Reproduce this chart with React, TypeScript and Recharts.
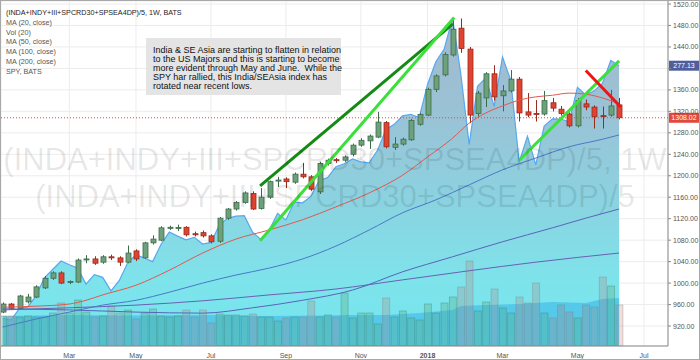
import React from 'react'
import { ComposedChart, Area, Bar, Line, XAxis, YAxis, CartesianGrid, ReferenceLine } from 'recharts'

// weekly bars, week 0 = week of 9 Jan 2017
const opens = [946, 961, 953, 965, 974, 991, 1009, 1019, 1001, 1002, 1044, 1045, 1039, 1049, 1047, 1039, 1060, 1047, 1075, 1080, 1102, 1103, 1104, 1092, 1094, 1088, 1078, 1121, 1138, 1150, 1167, 1139, 1160, 1190, 1194, 1188, 1203, 1198, 1170, 1223, 1230, 1229, 1240, 1257, 1265, 1272, 1299, 1253, 1259, 1267, 1296, 1313, 1361, 1388, 1425, 1475, 1436, 1316, 1345, 1390, 1349, 1358, 1380, 1319, 1316, 1315, 1336, 1324, 1315, 1293, 1334, 1328, 1312, 1313, 1332]
const highs = [964, 963, 978, 980, 996, 1013, 1022, 1022, 1005, 1046, 1052, 1050, 1052, 1053, 1050, 1070, 1063, 1077, 1089, 1106, 1107, 1109, 1106, 1096, 1098, 1091, 1123, 1140, 1153, 1171, 1171, 1177, 1191, 1198, 1197, 1206, 1224, 1201, 1226, 1232, 1233, 1238, 1260, 1270, 1277, 1319, 1302, 1272, 1271, 1306, 1317, 1364, 1389, 1430, 1490, 1493, 1440, 1358, 1393, 1406, 1369, 1397, 1384, 1354, 1341, 1358, 1345, 1330, 1318, 1345, 1342, 1331, 1329, 1360, 1345]
const lows = [944, 950, 951, 962, 972, 989, 1006, 998, 998, 1000, 1037, 1034, 1036, 1043, 1032, 1037, 1041, 1045, 1072, 1078, 1099, 1097, 1087, 1087, 1085, 1074, 1075, 1118, 1135, 1148, 1136, 1137, 1157, 1179, 1177, 1185, 1195, 1172, 1166, 1219, 1224, 1226, 1236, 1254, 1250, 1270, 1251, 1248, 1256, 1265, 1293, 1311, 1356, 1385, 1422, 1429, 1298, 1310, 1328, 1340, 1320, 1355, 1301, 1309, 1301, 1312, 1320, 1312, 1290, 1290, 1322, 1288, 1288, 1310, 1305]
const closes = [961, 953, 976, 974, 993, 1009, 1019, 1000, 1003, 1043, 1045, 1037, 1049, 1047, 1039, 1056, 1045, 1075, 1082, 1103, 1104, 1103.5, 1090, 1090, 1088, 1077, 1121, 1138, 1150, 1168, 1138, 1160, 1189, 1192, 1189, 1203, 1198, 1175, 1223, 1229, 1228, 1235, 1257, 1266, 1274, 1300, 1254, 1259, 1268, 1303, 1314, 1361, 1386, 1426, 1473, 1437, 1313, 1354, 1390, 1347, 1358, 1380, 1317, 1313, 1315, 1340, 1326, 1316, 1293, 1340, 1328, 1310, 1311, 1330, 1308.02]
const spyCloses = [227.05, 226.74, 229.0, 229.34, 231.51, 235.09, 236.74, 238.42, 237.69, 237.03, 233.86, 235.74, 235.2, 232.51, 234.59, 238.08, 239.7, 239.04, 238.31, 241.71, 244.17, 243.36, 242.64, 243.13, 241.8, 242.11, 245.56, 246.88, 247.32, 247.41, 244.12, 242.71, 244.56, 247.84, 246.58, 250.09, 249.96, 251.23, 254.37, 254.95, 257.11, 257.71, 258.67, 258.09, 257.86, 260.36, 264.46, 265.51, 267.19, 267.51, 266.86, 273.42, 277.92, 280.41, 286.58, 275.45, 261.5, 273.03, 274.71, 269.08, 278.87, 274.2, 258.05, 263.15, 257.47, 265.15, 266.61, 266.56, 266.02, 272.85, 271.33, 272.15, 273.6, 278.19, 277.13]
const volumes = [3000, 3000, 2900, 3000, 2900, 2900, 3300, 4300, 3300, 4600, 3400, 2900, 3000, 4000, 3300, 3600, 2700, 3300, 3700, 3000, 2900, 3000, 3600, 2900, 3600, 2300, 3200, 3100, 3100, 3000, 3200, 2900, 2900, 2500, 2800, 2900, 2900, 4500, 2900, 3100, 2900, 5300, 2800, 3300, 3300, 2200, 4800, 2900, 3500, 2800, 2600, 4200, 3300, 4300, 4900, 5900, 8500, 3500, 4400, 5700, 3800, 3300, 4900, 4300, 6300, 3300, 2800, 4100, 3400, 2800, 4100, 3900, 6900, 6000, 4100]

// indicator readings [week, value]
const ma20Pts = [[0, 955], [4, 957], [8, 961], [10, 968], [12, 978], [16, 996], [20, 1024], [24, 1056], [28, 1082], [32, 1099], [36, 1118], [40, 1142], [44, 1168], [48, 1201], [51, 1235], [54, 1270], [56, 1298], [58, 1317], [60, 1330], [62, 1341], [64, 1347], [66, 1350], [68, 1354], [70, 1352], [72, 1345], [74, 1334]]
const ma50Pts = [[0, 918], [4, 933], [8, 946], [12, 959], [16, 968], [20, 983], [24, 1000], [28, 1015], [32, 1028], [36, 1045], [40, 1069], [44, 1099], [48, 1131], [52, 1155], [56, 1183], [60, 1211], [64, 1233], [68, 1254], [72, 1268], [74, 1276]]
const ma100Pts = [[0, 952], [8, 950], [16, 946], [24, 944], [30, 954], [36, 968], [42, 987], [48, 1021], [54, 1049], [60, 1077], [66, 1103], [70, 1121], [74, 1138]]
const ma200Pts = [[0, 950], [8, 954], [16, 959], [24, 967], [32, 978], [40, 989], [48, 1006], [56, 1023], [64, 1039], [74, 1056]]
const volMaPts = [[0, 3000], [8, 3100], [16, 3050], [24, 3100], [32, 3000], [38, 3050], [42, 3100], [46, 3100], [50, 3300], [54, 3600], [55, 4000], [58, 4100], [62, 4200], [66, 4400], [70, 4300], [72, 4700], [74, 4800]]

const priceTicks = [920, 960, 1000, 1040, 1080, 1120, 1160, 1200, 1240, 1280, 1320, 1360, 1400, 1440, 1480, 1520]
const hiddenPriceLabels = [1400] // covered by the SPY last-value box
const monthTicks = [8, 16, 25, 34, 43, 51, 60, 69, 77]
const monthLabels = ['Mar', 'May', 'Jul', 'Sep', 'Nov', '2018', 'Mar', 'May', 'Jul']

// hand drawn trend lines, [week, price]
const trendLines = [
  { from: [30.9, 1181], to: [54.05, 1483], color: '#138a13', width: 3 },
  { from: [30.9, 1079], to: [54.2, 1495], color: '#3be03b', width: 3 },
  { from: [62.0, 1229], to: [74.0, 1414], color: '#3be03b', width: 3 },
  { from: [70.0, 1396], to: [74.2, 1328], color: '#f01414', width: 3 },
]

const noteLines = [
  'India & SE Asia are starting to flatten in relation',
  'to the US Majors and this is starting to become',
  'more evident through May and June.  While the',
  'SPY har rallied, this India/SEAsia index has',
  'rotated near recent lows.',
]
const legendLines = ['(INDA+INDY+III+SPCRD30+SPSEA4DP)/5, 1W, BATS', 'MA (20, close)', 'Vol (20)', 'MA (50, close)', 'MA (100, close)', 'MA (200, close)', 'SPY, BATS']
const watermark = ['(INDA+INDY+III+SPCRD30+SPSEA4DP)/5, 1W', '(INDA+INDY+III+SPCRD30+SPSEA4DP)/5']

const lastClose = 1308.02
const lastSpy = 277.13

const rows: any[] = opens.map((o, i) => ({
  i, o, h: highs[i], l: lows[i], c: closes[i], spy: spyCloses[i], vol: volumes[i], up: closes[i] >= o,
}))
const addPts = (pts: number[][], key: string) => pts.forEach(([i, v]) => { rows[i][key] = v })
addPts(ma20Pts, 'ma20')
addPts(ma50Pts, 'ma50')
addPts(ma100Pts, 'ma100')
addPts(ma200Pts, 'ma200')
addPts(volMaPts, 'volMa')

const FONT = '"Liberation Sans", Arial, sans-serif'
const X_DOMAIN = [-0.204, 79.87]

function Candle(props: any) {
  const { x, y, width, height, payload } = props
  if (!payload || height == null) return null
  const top = Math.min(y, y + height)
  const hh = Math.abs(height)
  const { o, h, l, c } = payload
  const yAt = (v: number) => top + ((h - v) / (h - l)) * hh
  const up = c >= o
  const stroke = up ? '#3d6b4a' : '#962b20'
  const fill = up ? '#6da17b' : '#e0432f'
  const cx = Math.round(x + width / 2) + 0.5
  const bTop = Math.min(yAt(o), yAt(c))
  const bH = Math.max(1, Math.abs(yAt(o) - yAt(c)))
  return (
    <g>
      <line x1={cx} x2={cx} y1={top} y2={top + hh} stroke={stroke} strokeWidth={1} />
      <rect x={cx - 2.5} y={bTop} width={5} height={bH} fill={fill} stroke={stroke} strokeWidth={0.8} />
    </g>
  )
}

function VolBar(props: any) {
  const { x, y, width, height, payload } = props
  if (!payload || !height) return null
  const up = payload.up
  return (
    <rect x={x} y={y} width={width} height={height}
      fill={up ? 'rgba(90,170,120,0.3)' : 'rgba(190,110,100,0.22)'}
      stroke={up ? 'rgba(60,120,95,0.4)' : 'rgba(130,110,110,0.35)'} strokeWidth={0.8} />
  )
}

function MonthTick(props: any) {
  const { x, y, payload } = props
  const label = monthLabels[monthTicks.indexOf(payload.value)]
  return (
    <text x={x} y={y + 7} textAnchor="middle" fontSize={7} fontFamily={FONT} fill="#555" fontWeight={label === '2018' ? 'bold' : 'normal'}>{label}</text>
  )
}

const priceBox = (text: string, color: string) => (props: any) => {
  const vb = props.viewBox
  if (!vb) return null
  const bx = vb.x + vb.width + 1
  return (
    <g>
      <rect x={bx} y={vb.y - 5} width={30} height={10} fill={color} />
      <text x={bx + 15} y={vb.y + 2.5} textAnchor="middle" fontSize={7} fontFamily={FONT} fill="#fff">{text}</text>
    </g>
  )
}

export default function App() {
  return (
    <div style={{ position: 'absolute', left: 0, top: 0, width: 700, height: 360, border: '1px solid #a8a8a8', boxSizing: 'border-box', background: '#fff' }}>
      <ComposedChart width={698} height={358} data={rows} margin={{ top: 0, right: 0, left: 0, bottom: 0 }}>
        <defs>
          <linearGradient id="spyFill" x1="0" y1="0" x2="0" y2="1">
            <stop offset="0" stopColor="#a3b8cc" />
            <stop offset="0.3" stopColor="#99c3d6" />
            <stop offset="0.55" stopColor="#8bd2e0" />
            <stop offset="0.8" stopColor="#7ee3eb" />
            <stop offset="1" stopColor="#74e6ef" />
          </linearGradient>
        </defs>
        <CartesianGrid stroke="#ececec" />
        <XAxis dataKey="i" type="number" domain={X_DOMAIN} ticks={monthTicks} allowDataOverflow
          height={13} tickSize={3} tickLine={false} axisLine={{ stroke: '#8a8a8a' }} tick={<MonthTick />} interval={0} />
        <XAxis xAxisId="v" dataKey="i" type="number" domain={X_DOMAIN} allowDataOverflow hide />
        <YAxis orientation="right" width={31} domain={[882.8, 1525.6]} ticks={priceTicks} allowDataOverflow interval={0}
          tickSize={3} tickMargin={2} axisLine={{ stroke: '#8a8a8a' }} tickLine={{ stroke: '#8a8a8a' }}
          tick={{ fontSize: 7, fontFamily: FONT, fill: '#555' }}
          tickFormatter={(v: number) => (hiddenPriceLabels.includes(v) ? '' : v.toFixed(2))} />
        <YAxis yAxisId="spy" domain={[221.59, 289.95]} allowDataOverflow hide />
        <YAxis yAxisId="vol" domain={[0, 34500]} allowDataOverflow hide />

        <Area yAxisId="spy" dataKey="spy" type="linear" fill="url(#spyFill)" fillOpacity={1} stroke="#57a8ee" strokeWidth={1.2}
          dot={false} activeDot={false} isAnimationActive={false} />
        <Area xAxisId="v" yAxisId="vol" dataKey="volMa" type="linear" connectNulls fill="#45bde8" fillOpacity={0.7} stroke="none"
          dot={false} activeDot={false} isAnimationActive={false} />
        <Bar xAxisId="v" yAxisId="vol" dataKey="vol" barSize={7} shape={<VolBar />} isAnimationActive={false} />

        <Line dataKey="ma200" type="monotone" connectNulls stroke="#6a60b4" strokeWidth={1} dot={false} activeDot={false} isAnimationActive={false} />
        <Line dataKey="ma100" type="monotone" connectNulls stroke="#5964b8" strokeWidth={1} dot={false} activeDot={false} isAnimationActive={false} />
        <Line dataKey="ma50" type="monotone" connectNulls stroke="#4a78c8" strokeWidth={1} dot={false} activeDot={false} isAnimationActive={false} />
        <Line dataKey="ma20" type="monotone" connectNulls stroke="#e2584c" strokeWidth={1} dot={false} activeDot={false} isAnimationActive={false} />

        <Bar dataKey={(d: any) => [d.l, d.h]} barSize={5} shape={<Candle />} isAnimationActive={false} />

        <ReferenceLine y={lastClose} stroke="#e0493e" strokeDasharray="1 2" label={{ content: priceBox(lastClose.toFixed(2), '#e0493e') }} />
        <ReferenceLine yAxisId="spy" y={lastSpy} stroke="#4f5f9e" strokeOpacity={0} label={{ content: priceBox(lastSpy.toFixed(2), '#4f5f9e') }} />
        {trendLines.map((t, k) => (
          <ReferenceLine key={k} segment={[{ x: t.from[0], y: t.from[1] }, { x: t.to[0], y: t.to[1] }]}
            stroke={t.color} strokeWidth={t.width} ifOverflow="visible" />
        ))}
      </ComposedChart>

      <svg width={700} height={360} style={{ position: 'absolute', left: -1, top: -1, pointerEvents: 'none' }}>
        {watermark.map((w, k) => (
          <text key={k} x={335} y={170 + k * 37} textAnchor="middle" fontSize={31} fontFamily={FONT} fill="#000" fillOpacity={0.1}>{w}</text>
        ))}
        {legendLines.map((t, k) => (
          <text key={k} x={6} y={15 + k * 9.78} fontSize={7.2} fontFamily={FONT} fill={k === 0 ? '#222' : '#555'}>{t}</text>
        ))}
        <rect x={146} y={38} width={195} height={57} fill="#e4e4e4" />
        {noteLines.map((t, k) => (
          <text key={k} x={153} y={53.3 + k * 8.8} fontSize={9} fontFamily={FONT} fill="#111" style={{ whiteSpace: 'pre' }}>{t}</text>
        ))}
      </svg>
    </div>
  )
}
